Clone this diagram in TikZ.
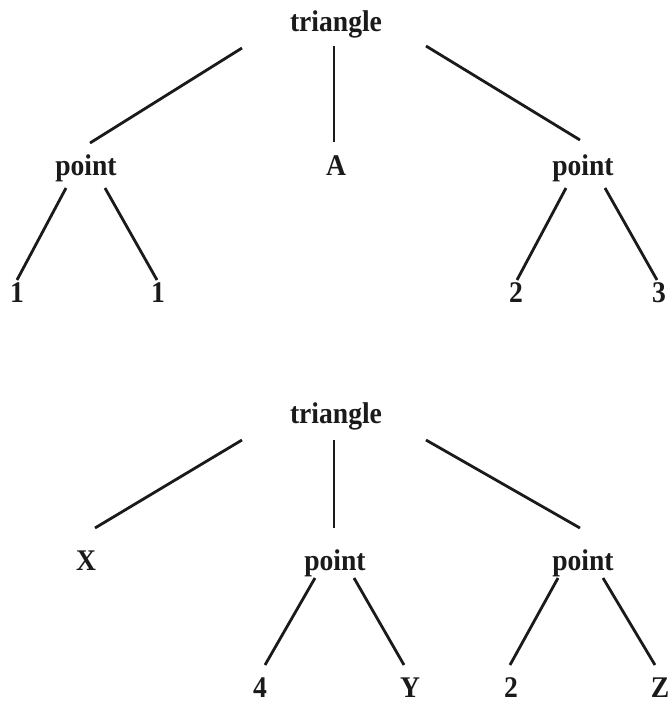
\documentclass[tikz,border=0pt]{standalone}
\usepackage{fontspec}
\setmainfont[FakeStretch=0.92]{Liberation Serif}
\definecolor{ink}{HTML}{1A1A1A}
\begin{document}
\begin{tikzpicture}[x=1pt,y=-1pt,
  lbl/.style={anchor=base,inner sep=0pt,font=\fontsize{30}{30}\selectfont\bfseries,text=ink},
  edge/.style={line width=2.8pt,draw=ink}]
\useasboundingbox[fill=white] (0,0) rectangle (671,705);

% ---- first tree: triangle(point(1,1), A, point(2,3))
\node[lbl] (t1)  at (336,31)  {triangle};
\node[lbl] (p1)  at (86,175)  {point};
\node[lbl] (a1)  at (336,175) {A};
\node[lbl] (p2)  at (583,175) {point};
\node[lbl] (n11) at (17,302)  {1};
\node[lbl] (n12) at (158,302) {1};
\node[lbl] (n21) at (516,302) {2};
\node[lbl] (n22) at (659,302) {3};

\draw[edge] ([shift={(-94,17)}]t1.base) -- ([shift={(4,-32)}]p1.base);
\draw[edge] ([shift={(-2,15)}]t1.base)  -- ([shift={(-2,-33)}]a1.base);
\draw[edge] ([shift={(90,15)}]t1.base)  -- ([shift={(-3,-35)}]p2.base);
\draw[edge] ([shift={(-20,13)}]p1.base) -- ([shift={(0,-22)}]n11.base);
\draw[edge] ([shift={(19,13)}]p1.base)  -- ([shift={(-1,-22)}]n12.base);
\draw[edge] ([shift={(-17,13)}]p2.base) -- ([shift={(1,-22)}]n21.base);
\draw[edge] ([shift={(22,13)}]p2.base)  -- ([shift={(-2,-22)}]n22.base);

% ---- second tree: triangle(X, point(4,Y), point(2,Z))
\node[lbl] (t2)  at (336,423) {triangle};
\node[lbl] (x2)  at (86,570)  {X};
\node[lbl] (p3)  at (335,570) {point};
\node[lbl] (p4)  at (583,570) {point};
\node[lbl] (n31) at (260,697) {4};
\node[lbl] (n32) at (410,697) {Y};
\node[lbl] (n41) at (511,697) {2};
\node[lbl] (n42) at (660,697) {Z};

\draw[edge] ([shift={(-94,17)}]t2.base) -- ([shift={(9,-42)}]x2.base);
\draw[edge] ([shift={(-2,17)}]t2.base)  -- ([shift={(-1,-42)}]p3.base);
\draw[edge] ([shift={(90,17)}]t2.base)  -- ([shift={(-3,-42)}]p4.base);
\draw[edge] ([shift={(-20,8)}]p3.base)  -- ([shift={(5,-32)}]n31.base);
\draw[edge] ([shift={(19,8)}]p3.base)   -- ([shift={(-6,-32)}]n32.base);
\draw[edge] ([shift={(-25,8)}]p4.base)  -- ([shift={(-1,-32)}]n41.base);
\draw[edge] ([shift={(20,8)}]p4.base)   -- ([shift={(-5,-32)}]n42.base);
\end{tikzpicture}
\end{document}
